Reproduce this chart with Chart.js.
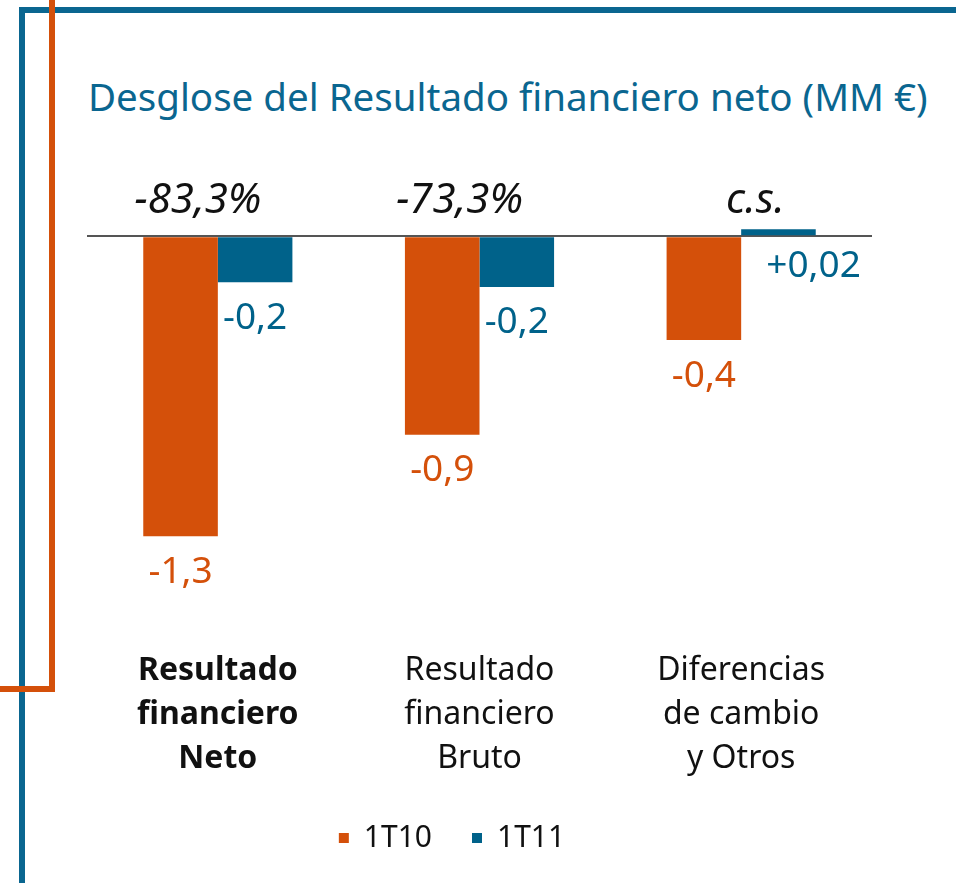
<!DOCTYPE html>
<html lang="es">
<head>
<meta charset="utf-8">
<title>Desglose del Resultado financiero neto</title>
<script src="https://cdn.jsdelivr.net/npm/chart.js@4.4.1/dist/chart.umd.min.js"></script>
<style>
  html, body { margin: 0; padding: 0; background: #fff; }
  body { width: 956px; height: 883px; position: relative; overflow: hidden; font-family: "Noto Sans", sans-serif; }
  .line { position: absolute; }
  .blue { background: #0a6690; }
  .orange { background: #d4500a; }
  #title { position: absolute; left: 88px; top: 77px; font-size: 38.5px; line-height: 1; color: #0a6690; white-space: nowrap; }
  #wrap { position: absolute; left: 0; top: 0; width: 956px; height: 883px; }
</style>
</head>
<body>
<div class="line blue" style="left:19px;top:7px;width:937px;height:6px"></div>
<div class="line blue" style="left:19px;top:7px;width:6px;height:876px"></div>
<div class="line orange" style="left:49px;top:0;width:6px;height:692px"></div>
<div class="line orange" style="left:0;top:686px;width:55px;height:6px"></div>
<div id="title">Desglose del Resultado financiero neto (MM €)</div>
<div id="wrap"><canvas id="chart" width="956" height="883"></canvas></div>
<script>
const categories = [
    ['Resultado', 'financiero', 'Neto'],
    ['Resultado', 'financiero', 'Bruto'],
    ['Diferencias', 'de cambio', 'y Otros']
];
const values1T10 = [-1.3, -0.86, -0.45];
const values1T11 = [-0.2, -0.22, 0.03];
const labels1T10 = ['-1,3', '-0,9', '-0,4'];
const labels1T11 = ['-0,2', '-0,2', '+0,02'];
const variation = ['-83,3%', '-73,3%', 'c.s.'];

const orange = '#d4500a';
const blue = '#00628a';

// etiquetas de valor bajo las barras y variación encima de cada grupo
const labelsPlugin = {
    id: 'labelsPlugin',
    afterDatasetsDraw(chart) {
        const ctx = chart.ctx;
        const texts = [labels1T10, labels1T11];
        const base = chart.scales.y.getPixelForValue(0);
        ctx.save();
        ctx.font = '37px "Noto Sans"';
        ctx.textBaseline = 'middle';
        ctx.textAlign = 'center';
        chart.data.datasets.forEach((ds, d) => {
            const meta = chart.getDatasetMeta(d);
            ctx.fillStyle = ds.backgroundColor;
            meta.data.forEach((bar, i) => {
                if (ds.data[i] < 0) {
                    ctx.fillText(texts[d][i], bar.x, bar.y + 36);
                } else {
                    ctx.fillText(texts[d][i], bar.x + bar.width * 0.47, base + 30);
                }
            });
        });
        ctx.font = 'italic 42px "Noto Sans"';
        ctx.fillStyle = '#111';
        ctx.textAlign = 'right';
        const meta = chart.getDatasetMeta(1);
        meta.data.forEach((bar, i) => {
            ctx.fillText(variation[i], bar.x + bar.width / 2 - 31, base - 35);
        });
        ctx.restore();
    }
};

new Chart(document.getElementById('chart'), {
    type: 'bar',
    data: {
        labels: categories,
        datasets: [{
            label: '1T10',
            data: values1T10,
            backgroundColor: orange
        }, {
            label: '1T11',
            data: values1T11,
            backgroundColor: blue
        }]
    },
    options: {
        responsive: false,
        animation: false,
        maintainAspectRatio: false,
        layout: { padding: { left: 32, right: 84, top: 201.5, bottom: 20 } },
        datasets: { bar: { barPercentage: 1, categoryPercentage: 0.57 } },
        scales: {
            x: {
                afterFit: (axis) => { axis.height = 212; },
                grid: { display: false, drawTicks: false },
                border: { display: false },
                ticks: {
                    color: '#111',
                    padding: 78,
                    font: (c) => ({ family: 'Noto Sans', size: 32, lineHeight: 1.375, weight: c.index === 0 ? 'bold' : 'normal' })
                }
            },
            y: {
                min: -1.45,
                max: 0.15,
                afterFit: (axis) => { axis.width = 55; },
                ticks: { display: false, stepSize: 0.05 },
                border: { display: false },
                grid: {
                    drawTicks: false,
                    lineWidth: 2,
                    color: (c) => (Math.abs(c.tick.value) < 1e-9 ? '#555' : 'transparent')
                }
            }
        },
        plugins: {
            tooltip: { enabled: false },
            legend: {
                position: 'bottom',
                labels: {
                    color: '#111',
                    boxWidth: 10,
                    boxHeight: 10,
                    padding: 40,
                    font: { family: 'Noto Sans', size: 30 }
                }
            }
        }
    },
    plugins: [labelsPlugin]
});
</script>
</body>
</html>
